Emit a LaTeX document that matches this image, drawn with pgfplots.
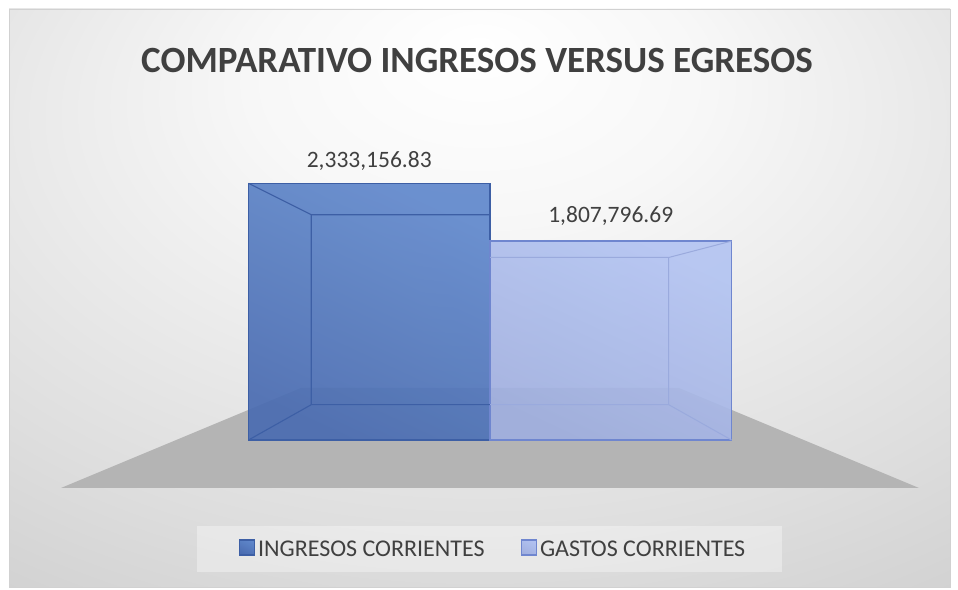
\documentclass[border=0pt]{standalone}
\usepackage{fontspec}
\setmainfont{Carlito}
\usepackage{pgfplots}
\pgfplotsset{compat=1.18}

\definecolor{titlegray}{HTML}{404040}
\definecolor{ingA}{HTML}{4A6CB1}
\definecolor{ingB}{HTML}{6088CC}
\definecolor{ingEdge}{HTML}{3D5FA5}
\definecolor{gasA}{HTML}{A0AFE0}
\definecolor{gasB}{HTML}{B2C3F2}
\definecolor{gasEdge}{HTML}{6F86CF}
\definecolor{floorgray}{HTML}{B4B4B4}

\pgfdeclareradialshading{bgshade}{\pgfpoint{0bp}{22bp}}{%
  color(0bp)=(white); color(12bp)=(white!97!black);
  color(34bp)=(black!13); color(50bp)=(black!21); color(80bp)=(black!25)}

\begin{document}
\begin{tikzpicture}
\path[use as bounding box] (0,0) rectangle (958bp,590bp);
% chart area
\shade[shading=bgshade, draw=black!18, line width=0.6bp] (9bp,3bp) rectangle (950bp,581bp);
% floor
\fill[floorgray] (61bp,102bp) -- (919bp,102bp) -- (679bp,202bp) -- (301bp,202bp) -- cycle;
% legend box
\fill[white, fill opacity=0.35] (197bp,18bp) rectangle (782bp,64bp);
% title
\node[anchor=base, text=titlegray, font=\fontsize{37bp}{42bp}\selectfont\bfseries]
  at (477bp,517bp) {COMPARATIVO INGRESOS VERSUS EGRESOS};

\begin{axis}[
    at={(0,0)}, anchor=south west,
    width=958bp, height=590bp, scale only axis,
    xmin=-1.5290, xmax=2.4379,
    ymin=-1363350, ymax=3999160,
    axis lines=none, ticks=none,
    clip=false,
    ybar, bar width=1, bar shift=0pt,
    legend columns=2,
    legend style={at={(rel axis cs:0.5151,0.0695)}, anchor=center,
        draw=none, fill=none, text=titlegray,
        font=\fontsize{24bp}{27bp}\selectfont,
        /tikz/every even column/.append style={column sep=33bp},
        nodes={inner xsep=3bp}},
    every node near coord/.append style={text=titlegray, anchor=base,
        font=\fontsize{23.5bp}{27bp}\selectfont},
]
\addplot[draw=ingEdge, line width=1.4bp, bottom color=ingA, top color=ingB,
    shading angle=-25, fill opacity=0.92,
    nodes near coords={2,333,156.83},
    every node near coord/.append style={yshift=16bp, fill opacity=1},
    legend image code/.code={\draw[draw=ingEdge, fill=ingA, line width=1.4bp]
        (0bp,-6bp) rectangle (15bp,9bp);}]
  coordinates {(0,2333156.83)};
\addlegendentry{INGRESOS CORRIENTES}
\addplot[draw=gasEdge, line width=1.4bp, bottom color=gasA, top color=gasB,
    shading angle=-25, fill opacity=0.9,
    nodes near coords={1,807,796.69},
    every node near coord/.append style={yshift=18.5bp, fill opacity=1},
    legend image code/.code={\draw[draw=gasEdge, fill=gasA, line width=1.4bp]
        (0bp,-6bp) rectangle (15bp,9bp);}]
  coordinates {(1,1807796.69)};
\addlegendentry{GASTOS CORRIENTES}

% perspective edges of the two boxes
\draw[ingEdge, line width=1.1bp]
  (axis cs:-0.5,0) -- (axis cs:-0.24,321022) -- (axis cs:-0.24,2047558) -- (axis cs:-0.5,2333156.83)
  (axis cs:-0.24,2047558) -- (axis cs:0.5,2047558)
  (axis cs:-0.24,321022) -- (axis cs:0.5,321022);
\draw[gasEdge!70, line width=1bp]
  (axis cs:1.5,0) -- (axis cs:1.24,321022) -- (axis cs:1.24,1658792) -- (axis cs:1.5,1807796.69)
  (axis cs:1.24,1658792) -- (axis cs:0.5,1658792)
  (axis cs:1.24,321022) -- (axis cs:0.5,321022);
\end{axis}
\end{tikzpicture}
\end{document}
